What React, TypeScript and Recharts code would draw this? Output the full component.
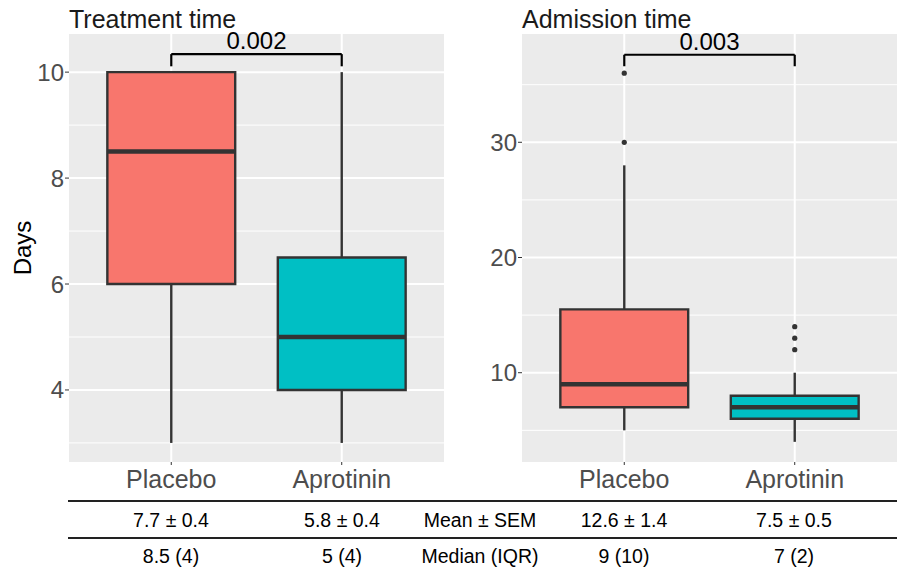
import { ComposedChart, XAxis, YAxis, CartesianGrid, ReferenceArea, ReferenceLine, Scatter } from 'recharts';

const groups = ['Placebo', 'Aprotinin'];
const fills = ['#F8766D', '#00BFC4'];

// Treatment time (days)
const treatLow = [3, 3];
const treatQ1 = [6, 4];
const treatMedian = [8.5, 5];
const treatQ3 = [10, 6.5];
const treatHigh = [10, 10];
const treatOutliers: number[][] = [[], []];

// Admission time (days)
const admLow = [5, 4];
const admQ1 = [7, 6];
const admMedian = [9, 7];
const admQ3 = [15.5, 8];
const admHigh = [28, 10];
const admOutliers: number[][] = [[30, 36], [12, 13, 14]];

const pValues = ['0.002', '0.003'];

// summary table
const tableRowLabels = ['Mean ± SEM', 'Median (IQR)'];
const treatMeanSem = ['7.7 ± 0.4', '5.8 ± 0.4'];
const treatMedianIqr = ['8.5 (4)', '5 (4)'];
const admMeanSem = ['12.6 ± 1.4', '7.5 ± 0.5'];
const admMedianIqr = ['9 (10)', '7 (2)'];

const FONT = '"Liberation Sans", Arial, Helvetica, sans-serif';
const EDGE = '#333333';

interface PanelProps {
  low: number[];
  q1: number[];
  median: number[];
  q3: number[];
  high: number[];
  outliers: number[][];
  domain: [number, number];
  ticks: number[];
  minor: number[];
  pLabel: string;
  bracketTop: number;
  bracketBottom: number;
  width: number;
  yAxisWidth: number;
  marginRight: number;
}

function BoxPanel(p: PanelProps) {
  const half = 0.375;
  const points = p.outliers.flatMap((vals, i) => vals.map((v) => ({ x: i + 1, y: v })));
  return (
    <ComposedChart width={p.width} height={500} margin={{ top: 34, right: p.marginRight, left: 0, bottom: 0 }}>
      <CartesianGrid
        horizontalValues={p.minor}
        vertical={false}
        stroke="#FFFFFF"
        strokeWidth={1}
        fill="#EBEBEB"
      />
      <CartesianGrid horizontalValues={p.ticks} verticalValues={[1, 2]} stroke="#FFFFFF" strokeWidth={2} />
      <XAxis
        dataKey="x"
        type="number"
        domain={[0.4, 2.6]}
        ticks={[1, 2]}
        interval={0}
        allowDataOverflow
        tickFormatter={(v) => groups[v - 1]}
        axisLine={false}
        tickLine={{ stroke: EDGE }}
        tickSize={3}
        tickMargin={5}
        height={38}
        tick={{ fontSize: 25, fill: '#4D4D4D', fontFamily: FONT }}
      />
      <YAxis
        dataKey="y"
        type="number"
        domain={p.domain}
        ticks={p.ticks}
        interval={0}
        allowDataOverflow
        axisLine={false}
        tickLine={{ stroke: EDGE }}
        tickSize={4}
        tickMargin={1}
        width={p.yAxisWidth}
        tick={{ fontSize: 24, fill: '#4D4D4D', fontFamily: FONT }}
      />
      {groups.map((g, i) => (
        <ReferenceLine
          key={`wl-${g}`}
          segment={[{ x: i + 1, y: p.low[i] }, { x: i + 1, y: p.q1[i] }]}
          stroke={EDGE}
          strokeWidth={2.4}
        />
      ))}
      {groups.map((g, i) => (
        <ReferenceLine
          key={`wh-${g}`}
          segment={[{ x: i + 1, y: p.q3[i] }, { x: i + 1, y: p.high[i] }]}
          stroke={EDGE}
          strokeWidth={2.4}
        />
      ))}
      {groups.map((g, i) => (
        <ReferenceArea
          key={`box-${g}`}
          x1={i + 1 - half}
          x2={i + 1 + half}
          y1={p.q1[i]}
          y2={p.q3[i]}
          fill={fills[i]}
          fillOpacity={1}
          stroke={EDGE}
          strokeWidth={2.4}
        />
      ))}
      {groups.map((g, i) => (
        <ReferenceLine
          key={`med-${g}`}
          segment={[{ x: i + 1 - half, y: p.median[i] }, { x: i + 1 + half, y: p.median[i] }]}
          stroke={EDGE}
          strokeWidth={4.5}
        />
      ))}
      <Scatter
        data={points}
        dataKey="y"
        isAnimationActive={false}
        shape={(s: any) => <circle cx={s.cx} cy={s.cy} r={2.6} fill={EDGE} />}
      />
      <ReferenceLine segment={[{ x: 1, y: p.bracketBottom }, { x: 1, y: p.bracketTop }]} stroke="#000" strokeWidth={2.2} />
      <ReferenceLine segment={[{ x: 2, y: p.bracketBottom }, { x: 2, y: p.bracketTop }]} stroke="#000" strokeWidth={2.2} />
      <ReferenceLine
        segment={[{ x: 1, y: p.bracketTop }, { x: 2, y: p.bracketTop }]}
        stroke="#000"
        strokeWidth={2.2}
        label={{ value: p.pLabel, position: 'top', fill: '#000', fontSize: 24, fontFamily: FONT, offset: 5 }}
      />
    </ComposedChart>
  );
}

const colCenters = [171, 342, 480, 624, 794];

export default function App() {
  const row1 = [treatMeanSem[0], treatMeanSem[1], tableRowLabels[0], admMeanSem[0], admMeanSem[1]];
  const row2 = [treatMedianIqr[0], treatMedianIqr[1], tableRowLabels[1], admMedianIqr[0], admMedianIqr[1]];
  return (
    <div style={{ position: 'absolute', left: 0, top: 0, width: 899, height: 573, background: '#FFFFFF', fontFamily: FONT }}>
      <div style={{ position: 'absolute', left: 0, top: 0 }}>
        <BoxPanel
          low={treatLow}
          q1={treatQ1}
          median={treatMedian}
          q3={treatQ3}
          high={treatHigh}
          outliers={treatOutliers}
          domain={[2.64, 10.72]}
          ticks={[4, 6, 8, 10]}
          minor={[3, 5, 7, 9]}
          pLabel={pValues[0]}
          bracketTop={10.34}
          bracketBottom={10.11}
          width={450}
          yAxisWidth={69}
          marginRight={6}
        />
      </div>
      <div style={{ position: 'absolute', left: 450, top: 0 }}>
        <BoxPanel
          low={admLow}
          q1={admQ1}
          median={admMedian}
          q3={admQ3}
          high={admHigh}
          outliers={admOutliers}
          domain={[2.25, 39.4]}
          ticks={[10, 20, 30]}
          minor={[5, 15, 25, 35]}
          pLabel={pValues[1]}
          bracketTop={37.6}
          bracketBottom={36.6}
          width={449}
          yAxisWidth={72}
          marginRight={2}
        />
      </div>
      <svg width={899} height={573} style={{ position: 'absolute', left: 0, top: 0, pointerEvents: 'none' }}>
        <text x={69} y={28} fontSize={25} fill="#1A1A1A" fontFamily={FONT}>Treatment time</text>
        <text x={522} y={28} fontSize={25} fill="#1A1A1A" fontFamily={FONT}>Admission time</text>
        <text x={0} y={0} fontSize={24} fill="#000" fontFamily={FONT} textAnchor="middle" transform="translate(31,248) rotate(-90)">Days</text>
        <line x1={68} x2={897} y1={501} y2={501} stroke="#222" strokeWidth={1.8} />
        <line x1={68} x2={897} y1={538} y2={538} stroke="#222" strokeWidth={1.8} />
        {row1.map((t, i) => (
          <text key={`r1-${i}`} x={colCenters[i]} y={527} fontSize={19.5} fill="#000" textAnchor="middle" fontFamily={FONT}>{t}</text>
        ))}
        {row2.map((t, i) => (
          <text key={`r2-${i}`} x={colCenters[i]} y={563} fontSize={19.5} fill="#000" textAnchor="middle" fontFamily={FONT}>{t}</text>
        ))}
      </svg>
    </div>
  );
}
